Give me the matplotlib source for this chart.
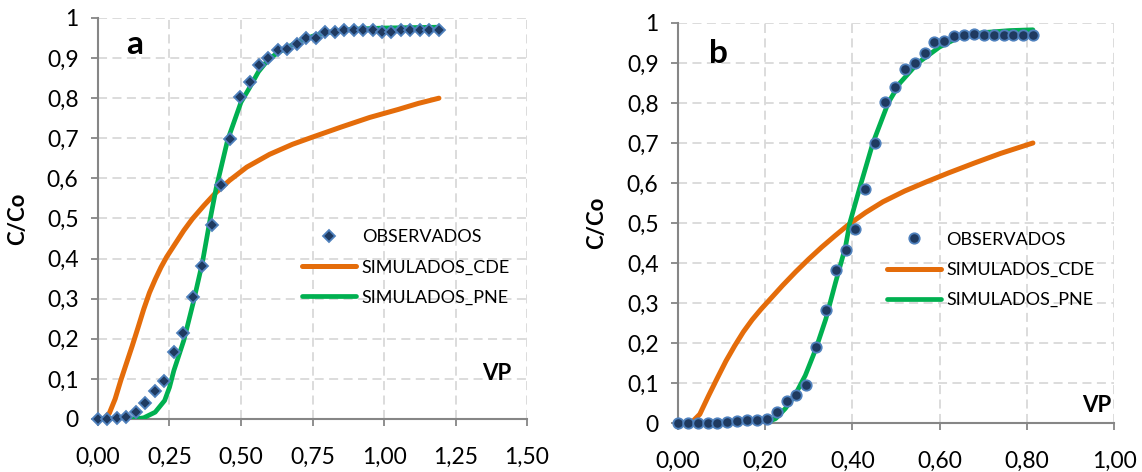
import matplotlib
matplotlib.use("Agg")
import matplotlib.pyplot as plt
from matplotlib.ticker import FuncFormatter, MultipleLocator

plt.rcParams['font.family'] = ['Lato', 'DejaVu Sans']

# --- Ensayo a ---
vp_obs_a = [0.000, 0.033, 0.066, 0.099, 0.132, 0.166, 0.199, 0.232, 0.265, 0.298,
            0.331, 0.364, 0.397, 0.430, 0.463, 0.497, 0.530, 0.563, 0.596, 0.629,
            0.662, 0.695, 0.728, 0.761, 0.794, 0.828, 0.861, 0.894, 0.927, 0.960,
            0.993, 1.026, 1.059, 1.092, 1.125, 1.159, 1.192]
cc_obs_a = [0.000, 0.000, 0.003, 0.006, 0.018, 0.041, 0.070, 0.094, 0.168, 0.215,
            0.305, 0.382, 0.483, 0.583, 0.699, 0.802, 0.840, 0.884, 0.900, 0.921,
            0.922, 0.935, 0.951, 0.951, 0.966, 0.966, 0.971, 0.969, 0.969, 0.969,
            0.964, 0.966, 0.969, 0.969, 0.969, 0.969, 0.969]

vp_cde_a = [0.00, 0.02, 0.04, 0.06, 0.08, 0.10, 0.12, 0.14, 0.16, 0.18,
            0.20, 0.22, 0.24, 0.27, 0.30, 0.33, 0.37, 0.41, 0.46, 0.52,
            0.60, 0.68, 0.75, 0.85, 0.95, 1.05, 1.12, 1.192]
cc_cde_a = [0.000, 0.000, 0.015, 0.050, 0.097, 0.140, 0.183, 0.228, 0.274, 0.315,
            0.348, 0.378, 0.404, 0.437, 0.470, 0.499, 0.532, 0.563, 0.595, 0.628,
            0.660, 0.685, 0.703, 0.728, 0.752, 0.772, 0.787, 0.800]

vp_pne_a = [0.000, 0.100, 0.130, 0.160, 0.200, 0.233, 0.250, 0.265, 0.300, 0.333,
            0.365, 0.390, 0.413, 0.453, 0.500, 0.529, 0.561, 0.595, 0.628, 0.694,
            0.760, 0.827, 0.893, 1.000, 1.192]
cc_pne_a = [0.000, 0.000, 0.000, 0.003, 0.017, 0.046, 0.079, 0.120, 0.196, 0.290,
            0.390, 0.490, 0.575, 0.695, 0.790, 0.825, 0.866, 0.896, 0.913, 0.939,
            0.957, 0.967, 0.972, 0.975, 0.977]

# --- Ensayo b ---
vp_obs_b = [0.000, 0.023, 0.045, 0.068, 0.090, 0.113, 0.136, 0.158, 0.181, 0.204,
            0.226, 0.249, 0.271, 0.294, 0.317, 0.339, 0.362, 0.385, 0.407, 0.430,
            0.452, 0.475, 0.498, 0.520, 0.543, 0.566, 0.588, 0.611, 0.633, 0.656,
            0.679, 0.701, 0.724, 0.747, 0.769, 0.792, 0.814]
cc_obs_b = [0.000, 0.000, 0.000, 0.000, 0.001, 0.003, 0.004, 0.007, 0.008, 0.010,
            0.027, 0.055, 0.071, 0.095, 0.189, 0.282, 0.382, 0.432, 0.485, 0.585,
            0.699, 0.803, 0.841, 0.885, 0.901, 0.925, 0.953, 0.955, 0.968, 0.970,
            0.972, 0.970, 0.970, 0.971, 0.971, 0.971, 0.971]

vp_cde_b = [0.00, 0.03, 0.05, 0.07, 0.09, 0.11, 0.13, 0.15, 0.17, 0.19,
            0.21, 0.24, 0.27, 0.30, 0.33, 0.36, 0.39, 0.43, 0.47, 0.52,
            0.57, 0.62, 0.68, 0.74, 0.814]
cc_cde_b = [0.000, 0.000, 0.022, 0.068, 0.112, 0.155, 0.193, 0.228, 0.258, 0.284,
            0.308, 0.344, 0.378, 0.410, 0.440, 0.468, 0.495, 0.526, 0.553, 0.580,
            0.603, 0.625, 0.650, 0.674, 0.700]

vp_pne_b = [0.000, 0.200, 0.224, 0.246, 0.268, 0.292, 0.316, 0.339, 0.361, 0.384,
            0.394, 0.416, 0.447, 0.482, 0.509, 0.550, 0.600, 0.646, 0.700, 0.760,
            0.814]
cc_pne_b = [0.000, 0.000, 0.011, 0.036, 0.069, 0.119, 0.185, 0.260, 0.350, 0.440,
            0.500, 0.585, 0.700, 0.800, 0.850, 0.900, 0.940, 0.965, 0.976, 0.981,
            0.983]

ORANGE = '#E46C0A'
GREEN = '#00B050'
NAVY = '#1F3A60'
EDGE = '#4F81BD'
AXIS = '#868686'
GRID = '#D9D9D9'


def fmt_y(v, pos):
    if abs(v) < 1e-9:
        return '0'
    if abs(v - 1) < 1e-9:
        return '1'
    return f'{v:.1f}'.replace('.', ',')


def panel(ax, vp_obs, cc_obs, marker, ms, vp_cde, cc_cde, vp_pne, cc_pne,
          xmax, xstep, letter, letter_xy, vp_xy, leg_xy):
    ax.plot(vp_cde, cc_cde, color=ORANGE, lw=3.6, solid_capstyle='round',
            solid_joinstyle='round', label='SIMULADOS_CDE', zorder=3)
    ax.plot(vp_pne, cc_pne, color=GREEN, lw=3.4, solid_capstyle='round',
            solid_joinstyle='round', label='SIMULADOS_PNE', zorder=4)
    ax.plot(vp_obs, cc_obs, ls='none', marker=marker, ms=ms, mfc=NAVY,
            mec=EDGE, mew=1.3, label='OBSERVADOS', zorder=5, clip_on=False)

    ax.set_xlim(0, xmax)
    ax.set_ylim(0, 1)
    ax.xaxis.set_major_locator(MultipleLocator(xstep))
    ax.yaxis.set_major_locator(MultipleLocator(0.1))
    ax.xaxis.set_major_formatter(FuncFormatter(lambda v, pos: f'{v:.2f}'.replace('.', ',')))
    ax.yaxis.set_major_formatter(FuncFormatter(fmt_y))

    ax.grid(True, color=GRID, ls=(0, (5, 3)), lw=1.3)
    ax.set_axisbelow(True)
    for s in ('top', 'right'):
        ax.spines[s].set_visible(False)
    for s in ('left', 'bottom'):
        ax.spines[s].set_color(AXIS)
        ax.spines[s].set_linewidth(1.5)
    ax.tick_params(colors=AXIS, labelcolor='black', labelsize=16.5,
                   length=5, width=1.3, direction='out')
    ax.tick_params(axis='x', pad=15)
    ax.tick_params(axis='y', pad=9)

    ax.set_ylabel('C/Co', fontsize=16, fontweight='bold')
    ax.yaxis.set_label_coords(-0.163, 0.5)

    ax.text(*letter_xy, letter, transform=ax.transAxes, fontsize=24,
            fontweight='bold', ha='center', va='center')
    ax.text(*vp_xy, 'VP', transform=ax.transAxes, fontsize=16,
            fontweight='bold', ha='center', va='center')

    h, l = ax.get_legend_handles_labels()
    order = [2, 0, 1]
    ax.legend([h[i] for i in order], [l[i] for i in order], loc='upper left',
              bbox_to_anchor=leg_xy, frameon=False, fontsize=13,
              handlelength=3.0, handletextpad=0.3, labelspacing=0.78,
              borderpad=0, borderaxespad=0)


fig = plt.figure(figsize=(11.42, 4.72), dpi=100)
ax_a = fig.add_axes([0.0858, 0.1123, 0.3757, 0.8496])
ax_b = fig.add_axes([0.5937, 0.1038, 0.3818, 0.8475])

panel(ax_a, vp_obs_a, cc_obs_a, 'D', 6.5, vp_cde_a, cc_cde_a, vp_pne_a, cc_pne_a,
      1.5, 0.25, 'a', (0.086, 0.933), (0.929, 0.113), (0.476, 0.473))
panel(ax_b, vp_obs_b, cc_obs_b, 'o', 7.5, vp_cde_b, cc_cde_b, vp_pne_b, cc_pne_b,
      1.0, 0.2, 'b', (0.093, 0.924), (0.96, 0.044), (0.479, 0.478))

fig.savefig('out.png', dpi=100)
